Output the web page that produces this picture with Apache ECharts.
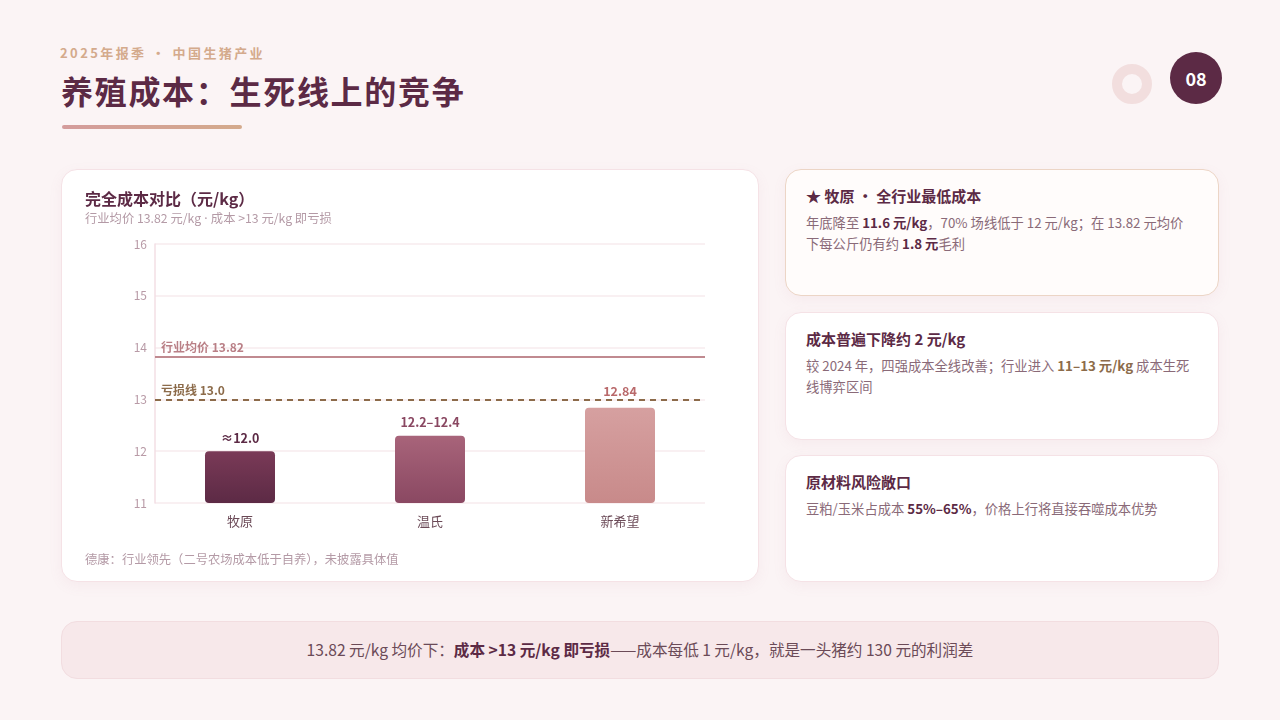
<!DOCTYPE html>
<html><head><meta charset="utf-8">
<script src="https://cdn.jsdelivr.net/npm/echarts@6/dist/echarts.min.js"></script>
<style>
*{margin:0;padding:0;box-sizing:border-box}
body{width:1280px;height:720px;background:#fbf4f5;font-family:"Noto Sans CJK SC","Noto Sans",sans-serif;position:relative;overflow:hidden}
.lat{font-family:"Noto Sans","DejaVu Sans",sans-serif}
.kicker{position:absolute;left:60px;top:43px;font-size:13px;font-weight:700;color:#d4aa8c;letter-spacing:2.4px}
.title{position:absolute;left:61px;top:67px;font-size:32px;font-weight:700;color:#5c2a45;letter-spacing:1.7px}
.uline{position:absolute;left:62px;top:125px;width:180px;height:4px;border-radius:2px;background:linear-gradient(90deg,#d49c9c,#d4aa8c)}
.ring{position:absolute;left:1112px;top:64px;width:40px;height:40px;border-radius:50%;border:10px solid #f2dede}
.num{position:absolute;left:1170px;top:52px;width:52px;height:52px;border-radius:50%;background:#5c2a45;color:#fff;font-weight:700;font-size:18px;display:flex;align-items:center;justify-content:center}
.card{position:absolute;background:#fff;border:1px solid #f5e2e6;border-radius:16px;box-shadow:0 4px 14px rgba(180,120,140,0.07)}
#chart{position:absolute;left:61px;top:169px;width:698px;height:413px}
.ctitle{position:absolute;left:85px;top:186px;font-size:16px;font-weight:700;color:#5c2a45}
.csub{position:absolute;left:85px;top:209px;font-size:12.3px;color:#b49aa6}
.cfoot{position:absolute;left:85px;top:550px;font-size:12.3px;color:#b49aa6}
.side h3{font-size:15px;font-weight:700;color:#5c2a45;margin-bottom:7px}
.side p{font-size:13.3px;color:#8a6a78;line-height:20.5px}
.side b{color:#5c2a45}
.side b.tan{color:#8c6b4a}
.banner{position:absolute;left:61px;top:621px;width:1158px;height:58px;background:#f7e8ea;border:1px solid #f2dde0;border-radius:16px;display:flex;align-items:center;justify-content:center;font-size:15.6px;color:#6b4a57}
.banner span{margin-top:-2px}
.banner b{color:#5c2a45}
</style></head>
<body>
<div class="kicker">2025年报季 · 中国生猪产业</div>
<div class="title">养殖成本：生死线上的竞争</div>
<div class="uline"></div>
<div class="ring"></div>
<div class="num">08</div>

<div class="card" style="left:61px;top:169px;width:698px;height:413px"></div>
<div id="chart"></div>
<div class="ctitle">完全成本对比（元/kg）</div>
<div class="csub">行业均价 13.82 元/kg<span class="lat"> · </span>成本 &gt;13 元/kg 即亏损</div>
<div class="cfoot">德康：行业领先（二号农场成本低于自养），未披露具体值</div>

<div class="card side" style="left:785px;top:169px;width:434px;height:127px;background:#fffcfb;border-color:#ecd5c6;padding:15px 22px 15px 20px">
<h3>★ 牧原 · 全行业最低成本</h3>
<p>年底降至 <b>11.6 元/kg</b>，70% 场线低于 12 元/kg；在 13.82 元均价下每公斤仍有约 <b>1.8 元</b>毛利</p>
</div>
<div class="card side" style="left:785px;top:312px;width:434px;height:128px;padding:15px 22px 15px 20px">
<h3>成本普遍下降约 2 元/kg</h3>
<p>较 2024 年，四强成本全线改善；行业进入 <b class="tan">11–13 元/kg</b> 成本生死线博弈区间</p>
</div>
<div class="card side" style="left:785px;top:455px;width:434px;height:127px;padding:15px 22px 15px 20px">
<h3>原材料风险敞口</h3>
<p>豆粕/玉米占成本 <b>55%–65%</b>，价格上行将直接吞噬成本优势</p>
</div>

<div class="banner"><span>13.82 元/kg 均价下：<b>成本 &gt;13 元/kg 即亏损</b>——成本每低 1 元/kg，就是一头猪约 130 元的利润差</span></div>

<script>
const categories = ["牧原", "温氏", "新希望"];
const costValues = [12.0, 12.3, 12.84];
const costLabels = ["≈12.0", "12.2–12.4", "12.84"];
const yTicks = { min: 11, max: 16, interval: 1 };
const avgPrice = 13.82;
const lossLine = 13.0;

const barColors = [
  ["#7a3a57", "#5c2a45"],
  ["#a8647a", "#8a4862"],
  ["#d6a0a0", "#c88a8a"]
];
const labelColors = ["#5c2a45", "#8a4862", "#b9696b"];
const labelGaps = [7, 7, 10];
const font = '"Noto Sans CJK SC","Noto Sans",sans-serif';

const chart = echarts.init(document.getElementById('chart'), null, {renderer: 'canvas'});
chart.setOption({
  animation: false,
  textStyle: {fontFamily: font},
  grid: [
    {left: 84, width: 570, top: 75, height: 259},
    {left: 94, width: 550, top: 75, height: 259}
  ],
  xAxis: [
    {gridIndex: 0, type: 'category', data: categories, axisLine: {show: false}, axisTick: {show: false},
     axisLabel: {color: '#6b4a57', fontSize: 13, margin: 12, fontFamily: font}},
    {gridIndex: 1, type: 'category', data: categories, show: false}
  ],
  yAxis: [
    {gridIndex: 0, type: 'value', min: yTicks.min, max: yTicks.max, interval: yTicks.interval, show: false},
    {gridIndex: 1, type: 'value', min: yTicks.min, max: yTicks.max, interval: yTicks.interval,
     axisLine: {show: true, lineStyle: {color: '#f3dfe5', width: 1.5}}, axisTick: {show: false},
     axisLabel: {color: '#b89aa6', fontSize: 12, margin: 8, fontFamily: font},
     splitLine: {show: true, lineStyle: {color: '#f7ebee', width: 1.5}}}
  ],
  series: [
    {
      type: 'bar', xAxisIndex: 0, yAxisIndex: 0, barWidth: 70,
      data: costValues.map((v, i) => ({
        value: v,
        itemStyle: {
          borderRadius: 4,
          color: new echarts.graphic.LinearGradient(0, 0, 0, 1, [
            {offset: 0, color: barColors[i][0]}, {offset: 1, color: barColors[i][1]}
          ])
        },
        label: {show: true, position: 'top', distance: labelGaps[i], formatter: costLabels[i],
                color: labelColors[i], fontWeight: 'bold', fontSize: 12.5, fontFamily: font}
      }))
    },
    {
      type: 'line', xAxisIndex: 1, yAxisIndex: 1, data: [null, null, null], symbol: 'none',
      markLine: {
        silent: true, symbol: ['none', 'none'],
        data: [
          {yAxis: avgPrice, lineStyle: {color: '#c08a90', width: 2, type: 'solid'},
           label: {show: true, position: 'insideStartTop', formatter: '行业均价 ' + avgPrice.toFixed(2),
                   color: '#b97f86', fontWeight: 'bold', fontSize: 12, distance: [6, 3], fontFamily: font}},
          {yAxis: lossLine, lineStyle: {color: '#8c6b4a', width: 1.8, type: [6, 5]},
           label: {show: true, position: 'insideStartTop', formatter: '亏损线 ' + lossLine.toFixed(1),
                   color: '#8c6b4a', fontWeight: 'bold', fontSize: 12, distance: [6, 3], fontFamily: font}}
        ]
      }
    }
  ]
});
</script>
</body></html>
